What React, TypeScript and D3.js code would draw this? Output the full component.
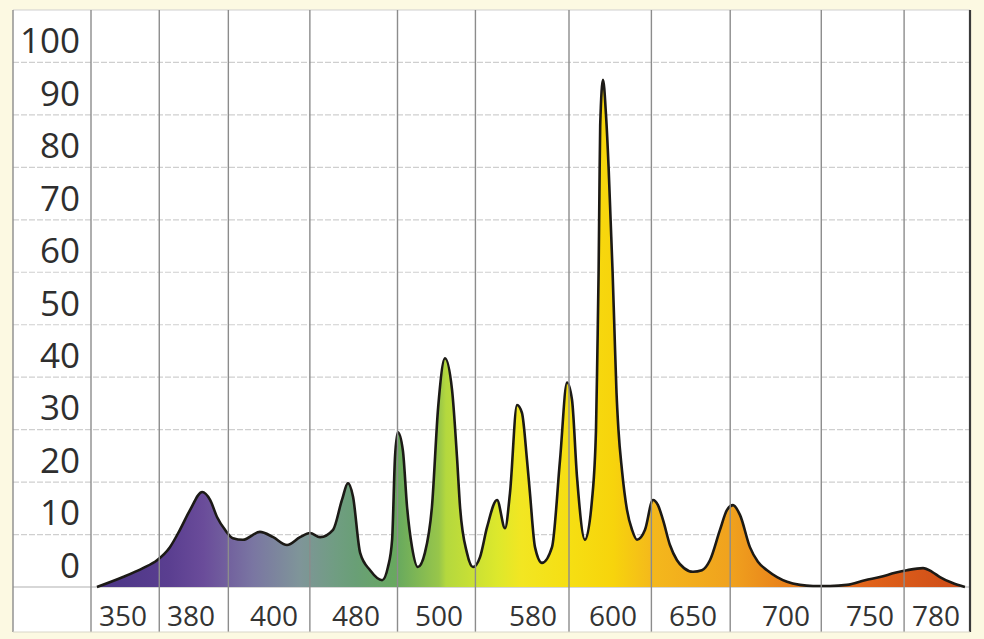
import React from "react";
import * as d3 from "d3";

// ---------- data ----------
const yTickValues = [0, 10, 20, 30, 40, 50, 60, 70, 80, 90, 100];
const xTickLabels = ["350", "380", "400", "480", "500", "580", "600", "650", "700", "750", "780"];
const xTickNm = [350, 380, 400, 480, 500, 580, 600, 650, 700, 750, 780];
const gridNm = [336, 366, 389, 435, 490, 531, 589, 624, 670, 721, 765.5, 795.5];

const spectrumNm = [
  338.6, 350.0, 358.8, 365.0, 370.7, 375.1, 379.6, 382.7, 384.6, 386.3, 388.2, 390.1, 392.5, 396.6, 399.8,
  412.7, 425.4, 435.1, 444.9, 457.6, 466.3, 472.2, 477.1, 481.0, 483.4, 486.3, 487.7, 488.7, 489.4, 490.1,
  491.3, 492.3, 493.5, 494.9, 496.6, 498.3, 499.8, 505.1, 511.1, 515.3, 517.9, 523.8, 528.9, 534.9, 540.9,
  549.4, 556.2, 560.4, 566.4, 570.6, 574.9, 577.4, 580.5, 582.25, 584.75, 586.75, 588.5, 589.75, 591.0,
  593.0, 594.75, 595.75, 596.1, 596.4, 596.6, 596.8, 597.5, 598.25, 598.9, 599.4, 599.9, 600.9, 602.2,
  603.4, 605.6, 608.75, 611.9, 615.0, 620.0, 625.0, 628.1, 631.25, 635.6, 640.0, 644.4, 650.0, 654.8,
  659.1, 664.5, 668.3, 671.5, 675.3, 680.6, 684.9, 689.8, 695.2, 700.6, 708.3, 716.1, 726.2, 736.3, 747.0,
  754.5, 761.4, 766.8, 774.1, 778.2, 781.8, 787.3, 793.2,
];
const spectrumValue = [
  0, 1.9, 3.6, 5.1, 7.6, 10.9, 14.7, 18.1, 16.6, 13.3, 10.9, 9.3, 9.0, 10.5, 9.5,
  8.0, 9.5, 10.3, 9.5, 10.9, 16.6, 19.8, 17.2, 6.5, 3.2, 1.3, 3.8, 9.0, 24.8, 29.5,
  26.0, 15.3, 7.6, 3.8, 6.5, 15.3, 34.3, 43.6, 37.6, 24.8, 15.3, 6.5, 3.8, 5.7, 11.4,
  16.6, 11.2, 17.9, 34.7, 33.2, 24.2, 17.9, 7.6, 4.6, 7.6, 24.2, 39.0, 35.7, 21.0,
  9.0, 16.6, 30.0, 45.0, 60.0, 75.0, 88.0, 96.7, 90.0, 80.0, 70.0, 60.0, 49.0, 37.0,
  30.0, 22.3, 14.7, 10.9, 9.0, 10.9, 16.6, 15.6, 12.8, 8.0, 5.1, 3.6, 2.9, 3.2,
  5.1, 10.9, 14.7, 15.6, 13.7, 7.6, 4.8, 3.2, 1.9, 1.0, 0.4, 0.2, 0.2, 0.4, 1.3,
  1.9, 2.7, 3.2, 3.6, 2.9, 1.9, 0.8, 0,
];

// ---------- layout / style ----------
const W = 984;
const H = 639;
const boxLeft = 13;
const boxRight = 970;
const boxTop = 10;
const boxBottom = 632;
const xStopsPx = [91, 123, 191, 274, 356, 439, 533, 613, 693, 786, 870, 936, 970];

const colorStops: [number, string][] = [
  [338, "#4a3585"], [370, "#5a3e90"], [383, "#6a4c9a"], [395, "#7a76a2"], [425, "#7f9599"],
  [460, "#709d82"], [480, "#699f76"], [490, "#68a95e"], [500, "#98c64a"], [506, "#b4d83e"],
  [550, "#dde82c"], [570, "#f2e622"], [590, "#f6de12"], [600, "#f7d40c"], [625, "#f4b81c"],
  [670, "#f0a21e"], [700, "#e8801a"], [750, "#e0621a"], [795, "#cc4a18"],
];

export default function App() {
  const x = d3
    .scaleLinear()
    .domain([gridNm[0], ...xTickNm, gridNm[gridNm.length - 1]])
    .range(xStopsPx);
  const y = d3.scaleLinear().domain([0, 110]).range([587, boxTop]);

  const pts = spectrumNm.map((nm, i) => ({ nm, v: spectrumValue[i] }));
  const area = d3
    .area<{ nm: number; v: number }>()
    .x((d) => x(d.nm))
    .y0(y(0))
    .y1((d) => y(d.v))
    .curve(d3.curveMonotoneX);
  const line = d3
    .line<{ nm: number; v: number }>()
    .x((d) => x(d.nm))
    .y((d) => y(d.v))
    .curve(d3.curveMonotoneX);

  const gx1 = x(colorStops[0][0]);
  const gx2 = x(colorStops[colorStops.length - 1][0]);
  const hGrid = d3.range(0, 111, 10);

  return (
    <svg
      width={W}
      height={H}
      style={{ position: "absolute", left: 0, top: 0, display: "block" }}
      fontFamily="'Open Sans', sans-serif"
    >
      <defs>
        <linearGradient id="spec" gradientUnits="userSpaceOnUse" x1={gx1} x2={gx2} y1={0} y2={0}>
          {colorStops.map(([nm, c], i) => (
            <stop key={i} offset={(x(nm) - gx1) / (gx2 - gx1)} stopColor={c} />
          ))}
        </linearGradient>
      </defs>
      <rect x={0} y={0} width={W} height={H} fill="#fcf9e2" />
      <rect x={boxLeft} y={boxTop} width={boxRight - boxLeft} height={boxBottom - boxTop} fill="#ffffff" />

      {/* horizontal grid */}
      {hGrid.map((v) => (
        <line
          key={"h" + v}
          x1={boxLeft}
          x2={boxRight}
          y1={y(v)}
          y2={y(v)}
          stroke={v === 0 ? "#b0b0b0" : "#cfcfcf"}
          strokeWidth={1.2}
          strokeDasharray={v === 0 || v === 110 ? undefined : "6 2"}
        />
      ))}

      {/* spectrum */}
      <path d={area(pts) || ""} fill="url(#spec)" />
      <path d={line(pts) || ""} fill="none" stroke="#1c1a16" strokeWidth={2.6} strokeLinejoin="round" />

      {/* vertical grid */}
      {gridNm.map((nm, i) => (
        <line
          key={"v" + i}
          x1={x(nm)}
          x2={x(nm)}
          y1={boxTop}
          y2={boxBottom}
          stroke={i === gridNm.length - 1 ? "#3a3a3a" : "#8c8c8c"}
          strokeWidth={i === gridNm.length - 1 ? 2.2 : 1.4}
        />
      ))}
      <line x1={boxLeft} x2={boxLeft} y1={boxTop} y2={boxBottom} stroke="#8c8c8c" strokeWidth={1.4} />
      <line x1={boxLeft} x2={boxRight} y1={boxBottom} y2={boxBottom} stroke="#d8d6c8" strokeWidth={1} />

      {/* y labels */}
      {yTickValues.map((v) => (
        <text key={"yl" + v} x={80} y={y(v + 5) + 17} textAnchor="end" fontSize={35} fill="#2e2e2e">
          {v}
        </text>
      ))}

      {/* x labels */}
      {xTickLabels.map((t, i) => (
        <text key={"xl" + t} x={x(xTickNm[i])} y={626} textAnchor="middle" fontSize={28} fill="#333333">
          {t}
        </text>
      ))}
    </svg>
  );
}
